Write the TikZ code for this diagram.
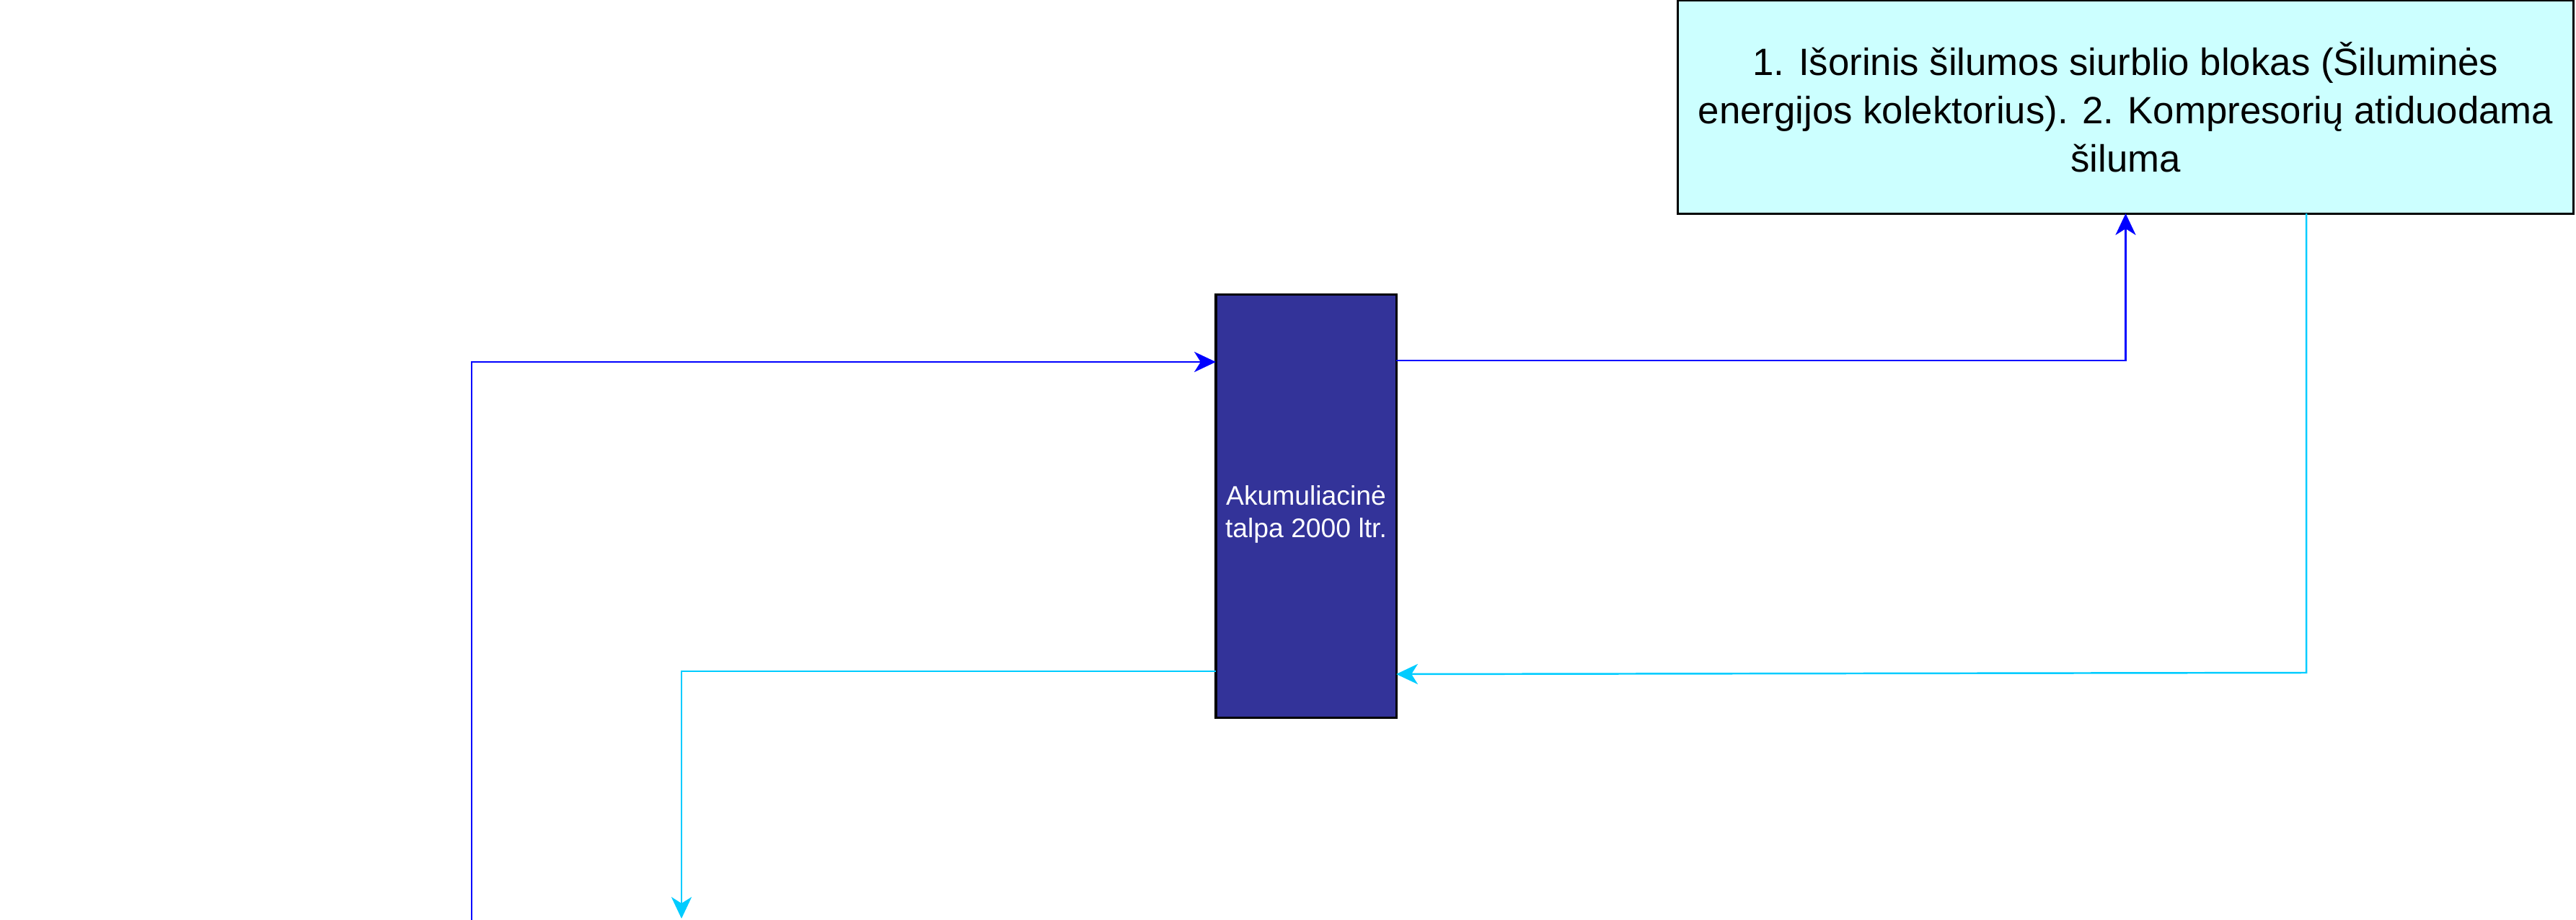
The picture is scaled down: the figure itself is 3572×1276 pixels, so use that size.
\documentclass[tikz,border=0pt]{standalone}
\usepackage{fontspec}
\setmainfont{Liberation Sans}
\usetikzlibrary{arrows.meta}
\definecolor{tankfill}{HTML}{333399}
\definecolor{boxfill}{HTML}{CCFFFF}
\definecolor{flowblue}{HTML}{0000FF}
\definecolor{flowcyan}{HTML}{00CCFF}
\tikzset{
  tankbox/.style={draw=black, line width=0.9pt, fill=tankfill, inner sep=0pt, outer sep=0pt,
    minimum width=2.5cm, minimum height=5.86cm},
  tanklabel/.style={inner sep=0pt, text=white, align=center,
    font=\fontsize{10.6}{12.8}\selectfont},
  sourcebox/.style={draw=black, line width=0.9pt, fill=boxfill, inner sep=0pt, outer sep=0pt,
    minimum width=12.41cm, minimum height=2.95cm, align=center,
    font=\fontsize{15}{19}\selectfont},
  arrowtip/.style={-{Stealth[length=8.5pt,width=8pt,inset=2.5pt]}},
  blueflow/.style={draw=flowblue, line width=0.7pt, arrowtip},
  cyanflow/.style={draw=flowcyan, line width=0.7pt, arrowtip},
}
\begin{document}
\begin{tikzpicture}[x=0.01cm,y=-0.01cm]
\useasboundingbox (0,0) rectangle (3572,1276);
\node[tankbox] (tank) at (1811,702) {};
\node[tanklabel] (tanktext) at (1811,713) {Akumuliacinė\\talpa 2000 ltr.};
\node[sourcebox] (src) at (2947.5,148.5) {1. Išorinis šilumos siurblio blokas (Šiluminės\\energijos kolektorius). 2. Kompresorių atiduodama\\šiluma};
\coordinate (blueIn) at (654,1276);
\coordinate (cyanOut) at (945,1274);
\coordinate (cyanTurn) at (3198,933);
% blue return into tank
\draw[blueflow] (blueIn) |- (tank.west |- {(0,502)});
% blue from tank to source box
\draw[blueflow] (tank.east |- {(0,500)}) -| (src.south);
% cyan from source box back to tank
\draw[cyanflow] (src.south -| cyanTurn) |- (cyanTurn) -- (tank.east |- {(0,935)});
% cyan out of tank downwards
\draw[cyanflow] (tank.west |- {(0,931)}) -| (cyanOut);
\end{tikzpicture}
\end{document}
